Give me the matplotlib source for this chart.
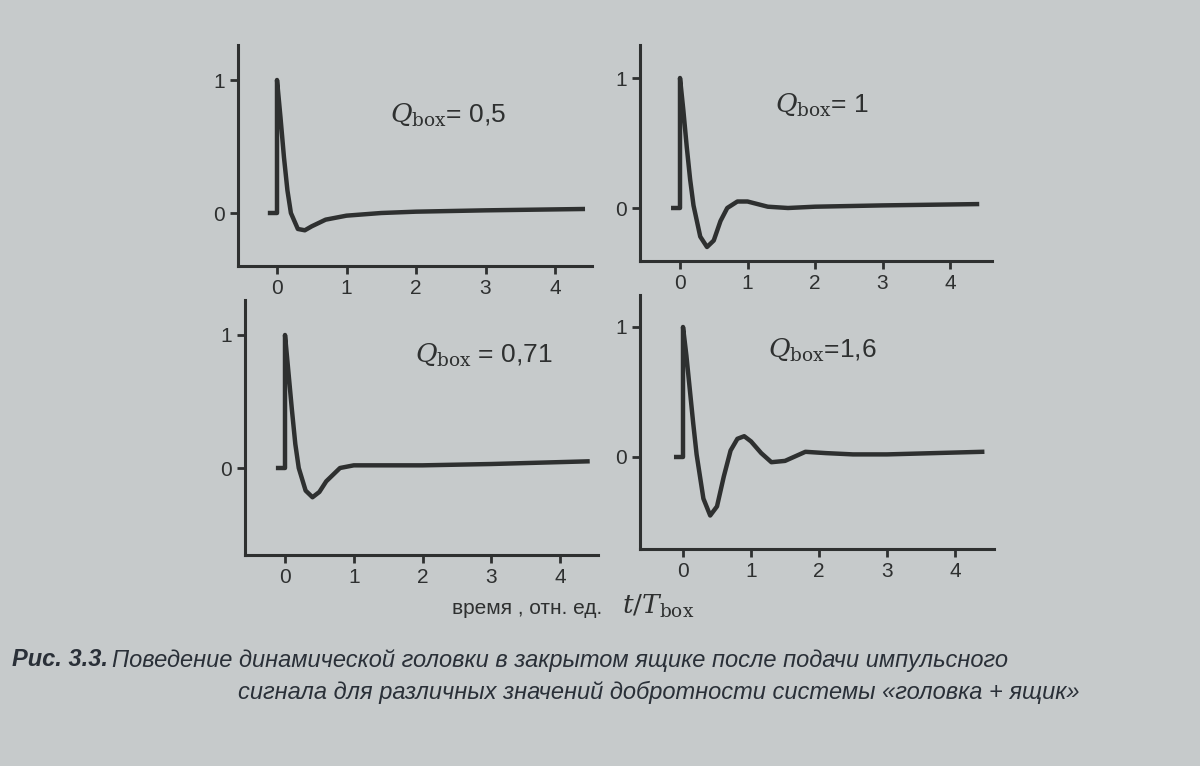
import matplotlib
matplotlib.use("Agg")
import matplotlib.pyplot as plt

plt.rcParams['font.family'] = ['Liberation Sans', 'DejaVu Sans']
plt.rcParams['mathtext.fontset'] = 'dejavuserif'

W, H = 1200, 766
BG = '#c6cacb'
INK = '#2e3030'

t05 = [-0.1, 0, 0, 0.05, 0.1, 0.15, 0.2, 0.3, 0.4, 0.5, 0.7, 1.0, 1.5, 2.0, 3.0, 4.4]
y05 = [0, 0, 1, 0.72, 0.42, 0.17, 0.0, -0.12, -0.13, -0.10, -0.05, -0.02, 0.0, 0.01, 0.02, 0.03]

t1 = [-0.1, 0, 0, 0.05, 0.1, 0.15, 0.2, 0.3, 0.4, 0.5, 0.6, 0.7, 0.85, 1.0, 1.3, 1.6, 2.0, 3.0, 4.4]
y1 = [0, 0, 1, 0.75, 0.47, 0.22, 0.02, -0.22, -0.30, -0.25, -0.10, 0.0, 0.05, 0.05, 0.01, 0.0, 0.01, 0.02, 0.03]

t071 = [-0.1, 0, 0, 0.05, 0.1, 0.15, 0.2, 0.3, 0.4, 0.5, 0.6, 0.8, 1.0, 1.5, 2.0, 3.0, 4.4]
y071 = [0, 0, 1, 0.72, 0.44, 0.18, 0.0, -0.17, -0.22, -0.18, -0.10, 0.0, 0.02, 0.02, 0.02, 0.03, 0.05]

t16 = [-0.1, 0, 0, 0.05, 0.1, 0.15, 0.2, 0.3, 0.4, 0.5, 0.6, 0.7, 0.8, 0.9, 1.0, 1.15, 1.3, 1.5, 1.8, 2.1, 2.5, 3.0, 4.4]
y16 = [0, 0, 1, 0.78, 0.52, 0.26, 0.02, -0.32, -0.45, -0.38, -0.15, 0.05, 0.14, 0.16, 0.12, 0.03, -0.04, -0.03, 0.04, 0.03, 0.02, 0.02, 0.04]

panels = [
    (t05, y05, r'$Q_{\mathrm{box}}$= 0,5', 238, 45, 592, 266, 277, 555, 80, 213, (390, 115)),
    (t1, y1, r'$Q_{\mathrm{box}}$= 1', 640, 45, 992, 261, 680, 950, 78, 208, (775, 105)),
    (t071, y071, r'$Q_{\mathrm{box}}$ = 0,71', 245, 300, 598, 555, 285, 560, 335, 468, (415, 355)),
    (t16, y16, r'$Q_{\mathrm{box}}$=1,6', 640, 295, 994, 549, 683, 955, 327, 457, (768, 350)),
]

fig = plt.figure(figsize=(W/100, H/100), dpi=100, facecolor=BG)

for t, y, lab, L, T, R, B, x0, x4, y1p, y0p, lp in panels:
    ax = fig.add_axes([L/W, 1-B/H, (R-L)/W, (B-T)/H])
    ax.set_facecolor(BG)
    u = (x4-x0)/4.0
    ax.set_xlim((L-x0)/u, (R-x0)/u)
    v = (y0p-y1p)
    ax.set_ylim((y0p-B)/v, (y0p-T)/v)
    ax.plot(t, y, color=INK, lw=3.2, solid_joinstyle='round')
    for s in ['top', 'right']:
        ax.spines[s].set_visible(False)
    for s in ['left', 'bottom']:
        ax.spines[s].set_linewidth(2.2)
        ax.spines[s].set_color(INK)
    ax.set_xticks([0, 1, 2, 3, 4])
    ax.set_yticks([0, 1])
    ax.tick_params(colors=INK, width=2, length=6, labelsize=15, direction='out')
    ax.text(lp[0]/W, 1-lp[1]/H, lab, transform=fig.transFigure, fontsize=19, color=INK, va='center')

fig.text(452/W, 1-608/H, 'время , отн. ед.', fontsize=15, color=INK, va='center')
fig.text(622/W, 1-606/H, r'$t/T_{\mathrm{box}}$', fontsize=19, color=INK, va='center')

fig.text(12/W, 1-660/H, 'Рис. 3.3.', fontsize=17, color='#2a3038', style='italic', weight='bold', va='center')
fig.text(112/W, 1-660/H, 'Поведение динамической головки в закрытом ящике после подачи импульсного',
         fontsize=17, color='#2a3038', style='italic', va='center')
fig.text(1080/W, 1-692/H, 'сигнала для различных значений добротности системы «головка + ящик»',
         fontsize=17, color='#2a3038', style='italic', va='center', ha='right')

fig.savefig('out.png', dpi=100, facecolor=BG)
